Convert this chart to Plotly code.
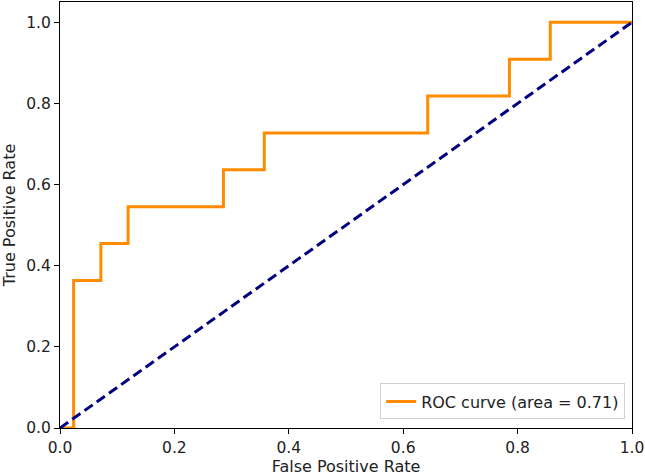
import plotly.graph_objects as go

fpr = [0.0, 1/42, 3/42, 5/42, 12/42, 15/42, 27/42, 33/42, 36/42, 1.0]
tpr = [0.0, 4/11, 5/11, 6/11, 7/11, 8/11, 9/11, 10/11, 1.0, 1.0]
chance_x = [0, 1]
chance_y = [0, 1]
auc_label = "ROC curve (area = 0.71)"

font = "DejaVu Sans"
fig = go.Figure()
fig.add_trace(go.Scatter(x=fpr, y=tpr, mode="lines", line_shape="hv",
                         line=dict(color="#ff8c00", width=3), name=auc_label))
fig.add_trace(go.Scatter(x=chance_x, y=chance_y, mode="lines",
                         line=dict(color="#000080", width=3, dash="10px,5px"),
                         showlegend=False))

axis_common = dict(showgrid=False, zeroline=False, showline=True, linecolor="black",
                   linewidth=1.2, mirror=True, ticks="outside", ticklen=5, tickwidth=1.2,
                   tickcolor="black", tickfont=dict(family=font, size=15.5, color="#222"),
                   tickformat=".1f", dtick=0.2, automargin=False)
fig.update_xaxes(range=[0, 1], title=dict(text="False Positive Rate",
                 font=dict(family=font, size=16, color="#222"), standoff=4), **axis_common)
fig.update_yaxes(range=[0, 1.05], title=dict(text="True Positive Rate",
                 font=dict(family=font, size=16, color="#222"), standoff=6), **axis_common)

fig.update_layout(width=645, height=476, plot_bgcolor="white", paper_bgcolor="white",
                  margin=dict(l=60, r=13, t=2, b=48),
                  legend=dict(x=0.988, y=0.02, xanchor="right", yanchor="bottom",
                              bordercolor="#d0d0d0", borderwidth=1, bgcolor="rgba(255,255,255,0.8)",
                              font=dict(family=font, size=16, color="#222")))
fig.write_html("out.html", config={"displayModeBar": False},
               post_script="document.body.style.margin='0';")
